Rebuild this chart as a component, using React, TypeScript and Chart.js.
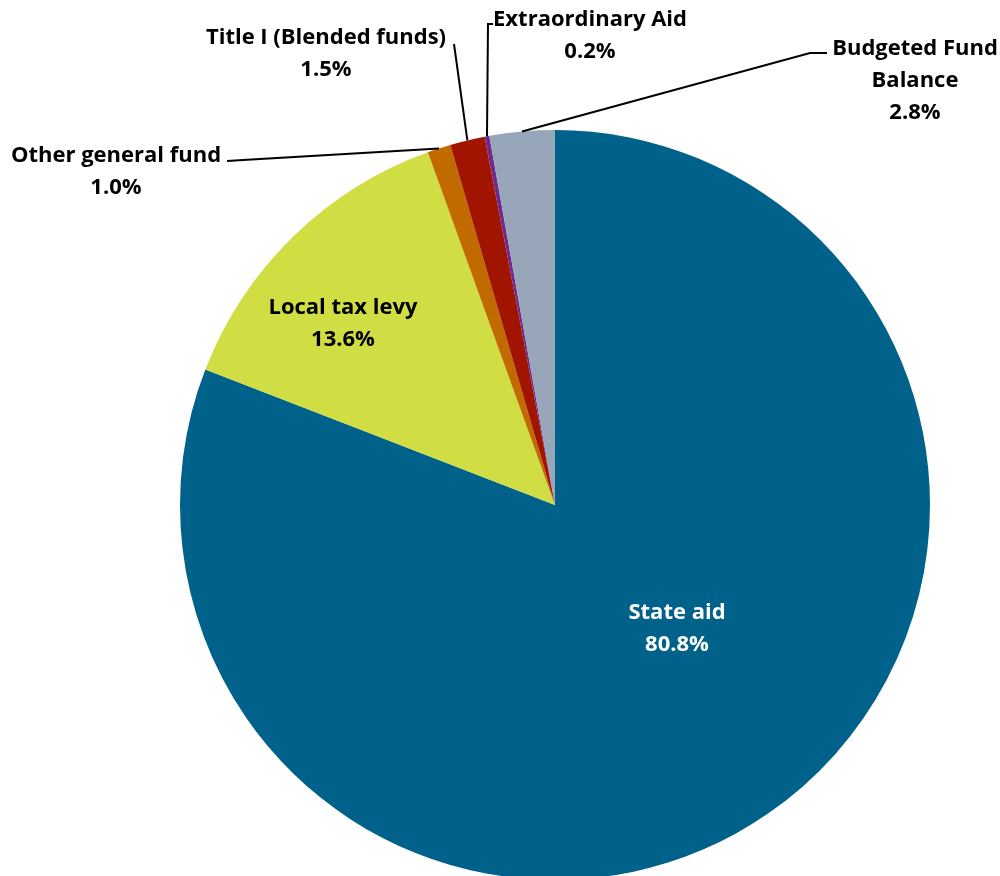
import React, { useEffect, useRef } from "react";
import { Chart, registerables } from "chart.js";
Chart.register(...registerables);

const categories = [
  "State aid",
  "Local tax levy",
  "Other general fund",
  "Title I (Blended funds)",
  "Extraordinary Aid",
  "Budgeted Fund Balance",
];
const values = [80.8, 13.6, 1.0, 1.5, 0.2, 2.8];
const colors = ["#00628A", "#D0DD43", "#C06A00", "#A11400", "#702A8C", "#97A6B8"];
const labelLines = [
  ["State aid"],
  ["Local tax levy"],
  ["Other general fund"],
  ["Title I (Blended funds)"],
  ["Extraordinary Aid"],
  ["Budgeted Fund", "Balance"],
];
const percentLabels = values.map((v) => v.toFixed(1) + "%");
const labelColors = ["#FFFFFF", "#000000", "#000000", "#000000", "#000000", "#000000"];
// label block centers (x, first-line y)
const labelPos: number[][] = [
  [677, 613],
  [343, 308],
  [116, 156],
  [326, 38],
  [590, 20],
  [915, 49],
];
// leader line elbows (from arc edge outward), empty = no leader
const leaderElbows: number[][][] = [
  [],
  [],
  [[243, 160], [227, 161]],
  [[454, 44]],
  [[488, 24], [493, 24]],
  [[810, 53], [827, 53]],
];

const FONT = 'bold 22px "Open Sans"';
const LINE_H = 32;

const labelPlugin = {
  id: "pieLabels",
  afterDraw(chart: any) {
    const ctx = chart.ctx;
    const meta = chart.getDatasetMeta(0);
    ctx.save();
    meta.data.forEach((arc: any, i: number) => {
      const p = arc.getProps(["x", "y", "startAngle", "endAngle", "outerRadius"], true);
      const elbows = leaderElbows[i];
      if (elbows.length) {
        const mid = (p.startAngle + p.endAngle) / 2;
        const sx = p.x + Math.cos(mid) * p.outerRadius;
        const sy = p.y + Math.sin(mid) * p.outerRadius;
        ctx.beginPath();
        ctx.strokeStyle = "#000";
        ctx.lineWidth = 2;
        ctx.moveTo(sx, sy);
        elbows.forEach((e) => ctx.lineTo(e[0], e[1]));
        ctx.stroke();
      }
      const lines = [...labelLines[i], percentLabels[i]];
      ctx.font = FONT;
      ctx.fillStyle = labelColors[i];
      ctx.textAlign = "center";
      ctx.textBaseline = "middle";
      lines.forEach((t, k) => {
        ctx.fillText(t, labelPos[i][0], labelPos[i][1] + k * LINE_H);
      });
    });
    ctx.restore();
  },
};

export default function App() {
  const ref = useRef<HTMLCanvasElement>(null);
  useEffect(() => {
    const chart = new Chart(ref.current!, {
      type: "pie",
      data: {
        labels: categories,
        datasets: [
          {
            data: values,
            backgroundColor: colors,
            borderWidth: 0,
            hoverOffset: 0,
          },
        ],
      },
      options: {
        responsive: false,
        animation: false,
        layout: { padding: { left: 180, right: 70, top: 130, bottom: 20 } },
        plugins: {
          legend: { display: false },
          tooltip: { enabled: false },
        },
      },
      plugins: [labelPlugin],
    });
    return () => chart.destroy();
  }, []);
  return (
    <div
      style={{
        position: "absolute",
        left: 0,
        top: 0,
        width: 1000,
        height: 876,
        overflow: "hidden",
        background: "#fff",
      }}
    >
      <canvas ref={ref} width={1000} height={900} style={{ width: 1000, height: 900, display: "block" }} />
    </div>
  );
}
